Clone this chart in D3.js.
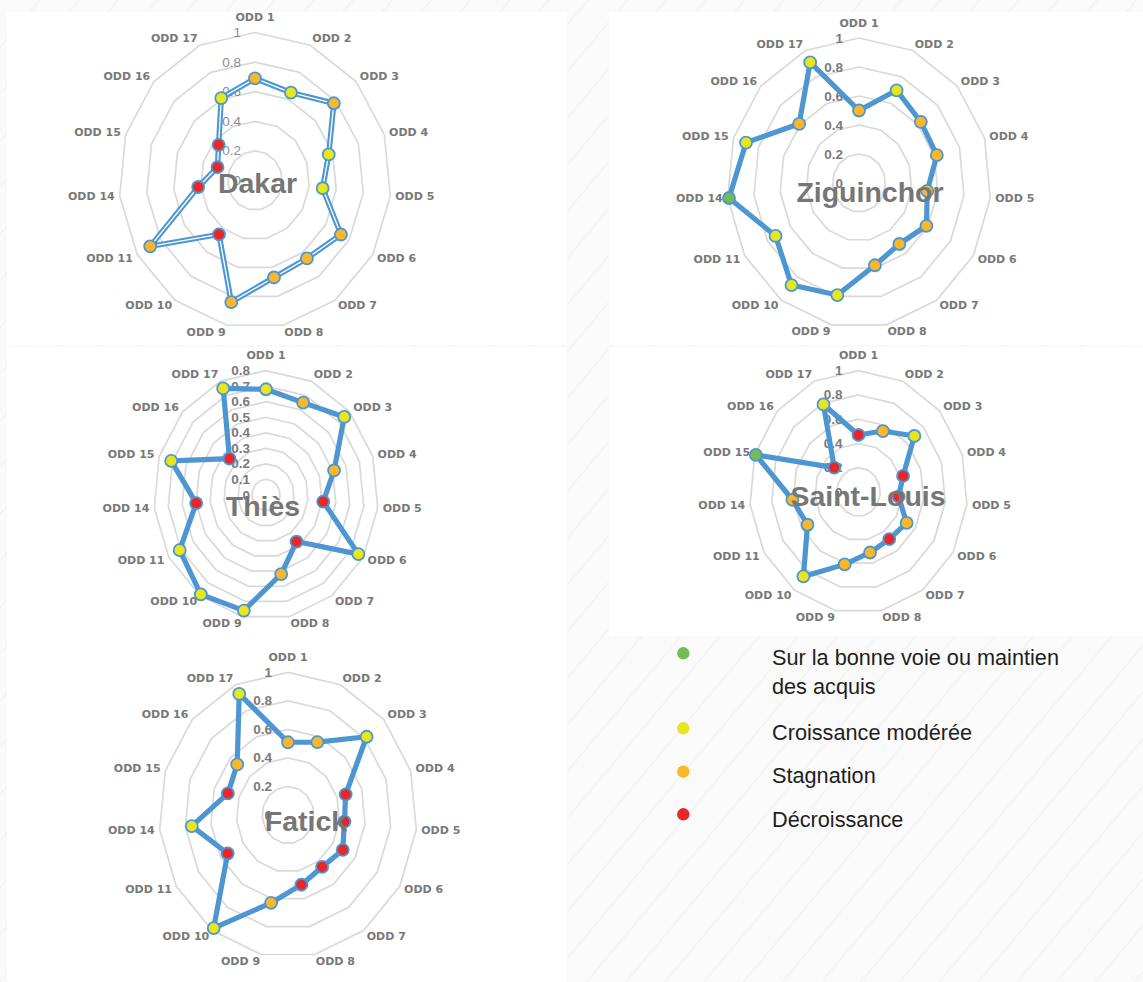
<!DOCTYPE html>
<html><head><meta charset="utf-8">
<script src="https://cdn.jsdelivr.net/npm/d3@7"></script>
<style>
html,body{margin:0;padding:0;background:#fafafa;}
svg{display:block;}
</style></head>
<body>
<svg id="chart" width="1143" height="982"></svg>
<script>
// ---------- DATA ----------
const axisLabels = ["ODD 1","ODD 2","ODD 3","ODD 4","ODD 5","ODD 6","ODD 7","ODD 8","ODD 9","ODD 10","ODD 11","ODD 14","ODD 15","ODD 16","ODD 17"];
const statusLabels = ["Sur la bonne voie ou maintien des acquis","Croissance modérée","Stagnation","Décroissance"];
const statusCodes = ["G","Y","O","R"];

const ticks01 = [0,0.2,0.4,0.6,0.8,1];
const ticksThies = [0,0.1,0.2,0.3,0.4,0.5,0.6,0.7,0.8];

const dakarValues  = [0.69,0.65,0.78,0.57,0.50,0.73,0.65,0.67,0.84,0.45,0.89,0.42,0.29,0.36,0.61];
const dakarStatus  = ["O","Y","O","Y","Y","O","O","O","O","R","O","R","R","R","Y"];

const ziguinchorValues = [0.50,0.70,0.63,0.62,0.52,0.59,0.52,0.58,0.79,0.87,0.73,0.99,0.90,0.61,0.91];
const ziguinchorStatus = ["O","Y","O","O","O","O","O","O","Y","Y","Y","G","Y","O","Y"];

const thiesValues = [0.68,0.65,0.75,0.51,0.41,0.76,0.37,0.52,0.76,0.79,0.71,0.50,0.71,0.35,0.75];
const thiesStatus = ["Y","O","Y","O","R","Y","R","O","Y","Y","Y","R","Y","R","Y"];

const saintLouisValues = [0.47,0.55,0.69,0.43,0.37,0.51,0.48,0.51,0.61,0.86,0.54,0.61,0.99,0.30,0.79];
const saintLouisStatus = ["R","O","Y","R","R","O","R","O","O","Y","O","O","G","R","Y"];

const fatickValues = [0.51,0.56,0.82,0.47,0.44,0.49,0.45,0.50,0.63,0.98,0.54,0.75,0.49,0.53,0.93];
const fatickStatus = ["O","O","Y","R","R","R","R","R","O","Y","R","Y","R","O","Y"];

// ---------- LAYOUT / STYLE ----------
const colors = {G:"#74bd55", Y:"#e8e61e", O:"#fbb72a", R:"#e8272b"};
const lineBlue = "#4e96d2";
const labelGray = "#787878";

const panels = [
  {name:"Dakar", values:dakarValues, status:dakarStatus, ticks:ticks01, max:1,
   rect:[7,12,560,333], cx:255, cy:180.5, rx:136, ry:148, title:[257.5,193], dbl:true, boldTicks:false},
  {name:"Ziguinchor", values:ziguinchorValues, status:ziguinchorStatus, ticks:ticks01, max:1,
   rect:[609,12,534,333], cx:859, cy:183, rx:132, ry:145, title:[870,202], dbl:false, boldTicks:true},
  {name:"Thiès", values:thiesValues, status:thiesStatus, ticks:ticksThies, max:0.8,
   rect:[7,347,560,291], cx:266, cy:495, rx:112.3, ry:124.4, title:[263,516], dbl:false, boldTicks:true},
  {name:"Saint-Louis", values:saintLouisValues, status:saintLouisStatus, ticks:ticks01, max:1,
   rect:[609,347,534,289], cx:858.5, cy:492, rx:109, ry:121.3, title:[868,506], dbl:false, boldTicks:true},
  {name:"Fatick", values:fatickValues, status:fatickStatus, ticks:ticks01, max:1,
   rect:[7,638,560,344], cx:288, cy:815, rx:129, ry:142.6, title:[306,831], dbl:false, boldTicks:true}
];

const svg = d3.select("#chart");

// background hatch
const defs = svg.append("defs");
const pat = defs.append("pattern").attr("id","hatch").attr("patternUnits","userSpaceOnUse")
  .attr("width",30).attr("height",30).attr("patternTransform","rotate(40)");
pat.append("rect").attr("width",30).attr("height",30).attr("fill","#fafafa");
pat.append("line").attr("x1",0).attr("y1",0).attr("x2",0).attr("y2",30)
  .attr("stroke","#f0f0f0").attr("stroke-width",2);
svg.append("rect").attr("width",1143).attr("height",982).attr("fill","url(#hatch)");

const angle = d3.scaleLinear().domain([0, axisLabels.length]).range([0, 2*Math.PI]);
const colorScale = d3.scaleOrdinal().domain(statusCodes).range(statusCodes.map(c=>colors[c]));

panels.forEach(p => {
  const g = svg.append("g");
  g.append("rect").attr("x",p.rect[0]).attr("y",p.rect[1]).attr("width",p.rect[2]).attr("height",p.rect[3]).attr("fill","#ffffff");

  const rScale = d3.scaleLinear().domain([0,p.max]).range([0,1]);
  const pt = (i,v) => {
    const a = angle(i), k = rScale(v);
    return [p.cx + Math.sin(a)*p.rx*k, p.cy - Math.cos(a)*p.ry*k];
  };

  // grid rings
  p.ticks.filter(t=>t>0).forEach(t => {
    const pts = axisLabels.map((_,i)=>pt(i,t));
    g.append("path").attr("d", d3.line().curve(d3.curveLinearClosed)(pts))
      .attr("fill","none").attr("stroke","#d9d9d9").attr("stroke-width",1.7);
  });

  // tick labels
  p.ticks.forEach(t => {
    g.append("text").attr("x", p.cx - (p.boldTicks?16:14)).attr("y", pt(0,t)[1])
      .attr("text-anchor","end").attr("dominant-baseline","central")
      .attr("font-family","Liberation Sans, Arial, sans-serif")
      .attr("font-size", 13.5).attr("font-weight", p.boldTicks?"bold":"normal")
      .attr("fill", p.boldTicks?"#7a7a7a":"#8c8c8c")
      .text(t===0?"0":t===1?"1":String(+t.toFixed(1)));
  });

  // axis labels
  axisLabels.forEach((lab,i) => {
    const a = angle(i), s = Math.sin(a), c = Math.cos(a);
    const [vx,vy] = pt(i,p.max);
    let anchor = Math.abs(s)<0.05 ? "middle" : (s>0?"start":"end");
    let x = vx + s*5;
    let y = vy - c*7 - (Math.abs(s)<0.05 ? c*8 : 0);
    g.append("text").attr("x",x).attr("y",y)
      .attr("text-anchor",anchor).attr("dominant-baseline","central")
      .attr("font-family","DejaVu Sans, Verdana, sans-serif").attr("font-weight","bold")
      .attr("font-size",11).attr("fill",labelGray).text(lab);
  });

  // series line
  const pts = p.values.map((v,i)=>pt(i,v));
  const lineGen = d3.line().curve(d3.curveLinearClosed);
  g.append("path").attr("d", lineGen(pts)).attr("fill","none")
    .attr("stroke",lineBlue).attr("stroke-width",p.dbl?5.5:5.2).attr("stroke-linejoin","round");
  if (p.dbl) {
    g.append("path").attr("d", lineGen(pts)).attr("fill","none")
      .attr("stroke","#ffffff").attr("stroke-width",1.3).attr("stroke-linejoin","round");
  }

  // markers
  g.selectAll("circle.m").data(p.values).join("circle").attr("class","m")
    .attr("cx",(v,i)=>pt(i,v)[0]).attr("cy",(v,i)=>pt(i,v)[1])
    .attr("r",6).attr("fill",(v,i)=>colorScale(p.status[i]))
    .attr("stroke",lineBlue).attr("stroke-width",1.8);

  // title
  g.append("text").attr("x",p.title[0]).attr("y",p.title[1]).attr("text-anchor","middle")
    .attr("font-family","Liberation Sans, Arial, sans-serif").attr("font-weight","bold")
    .attr("font-size",28.5).attr("fill","#767676").text(p.name);
});

// legend
const legendDots = [653.3, 728.3, 771.7, 814.3];
const legendTextY = [[657.7,686.7],[732.7],[775.7],[819.3]];
const legendLines = [["Sur la bonne voie ou maintien","des acquis"],["Croissance modérée"],["Stagnation"],["Décroissance"]];
const lg = svg.append("g");
statusCodes.forEach((c,i) => {
  lg.append("circle").attr("cx",683.3).attr("cy",legendDots[i]).attr("r",6.2).attr("fill",colorScale(c));
  legendLines[i].forEach((t,j) => {
    lg.append("text").attr("x",772).attr("y",legendTextY[i][j]).attr("dominant-baseline","central")
      .attr("font-family","Liberation Sans, Arial, sans-serif").attr("font-size",21.7)
      .attr("fill","#1e1e1e").text(t);
  });
});
</script>
</body></html>
